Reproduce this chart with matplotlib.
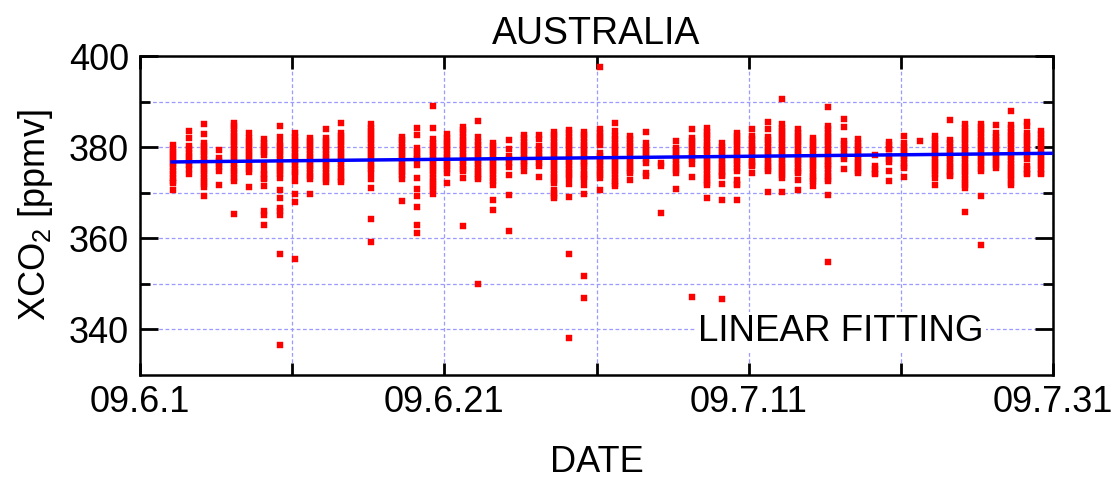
import matplotlib
matplotlib.use("Agg")
import matplotlib.pyplot as plt
from matplotlib.ticker import FixedLocator, NullFormatter

plt.rcParams['font.family'] = ['Liberation Sans', 'DejaVu Sans']
plt.rcParams['mathtext.fontset'] = 'custom'
plt.rcParams['mathtext.rm'] = 'Liberation Sans'
plt.rcParams['mathtext.it'] = 'Liberation Sans:italic'

# observation time (days since 2009-06-01 00:00)
obs_days = [2.15, 3.20, 4.18, 5.19, 6.18, 7.16, 8.17, 9.18, 10.16, 11.19, 12.20, 13.23,
            15.18, 17.19, 18.18, 19.23, 20.19, 21.20, 22.23, 23.21, 24.22, 25.23, 26.19,
            27.20, 28.21, 29.19, 30.23, 31.21, 32.22, 33.23, 34.21, 35.22, 36.25, 37.24,
            38.22, 39.21, 40.25, 41.24, 42.22, 43.25, 44.24, 45.22, 46.28, 47.20, 48.29,
            49.23, 50.21, 51.24, 52.23, 53.26, 54.20, 55.25, 56.24, 57.27, 58.29, 59.24]

# XCO2 soundings for each observation day [ppmv]
obs_xco2 = [
    [380.4, 379.7, 379.0, 378.3, 377.6, 376.9, 376.2, 375.6, 374.7, 374.0, 373.3, 372.6, 372.2, 370.5],
    [383.6, 381.9, 380.2, 379.5, 378.8, 378.1, 377.4, 376.7, 376.0, 375.1, 374.0],
    [385.0, 382.9, 381.0, 380.3, 379.6, 378.9, 378.2, 377.5, 376.8, 376.1, 375.4, 374.7, 374.0, 373.3, 372.6, 371.9, 371.2, 369.2],
    [379.3, 377.7, 377.0, 376.3, 375.6, 374.8, 371.6],
    [385.3, 384.6, 383.9, 383.2, 382.5, 381.8, 381.1, 380.4, 379.7, 379.0, 378.3, 377.6, 376.9, 376.2, 375.5, 374.8, 374.0, 373.3, 372.5, 365.3],
    [383.0, 382.1, 381.4, 380.7, 380.0, 379.4, 378.7, 378.0, 377.3, 376.6, 375.9, 375.2, 374.5, 371.2],
    [381.7, 381.0, 380.3, 379.6, 378.9, 378.2, 376.0, 374.7, 374.0, 373.3, 372.9, 371.4, 366.0, 365.2, 363.0],
    [384.6, 382.2, 381.0, 380.3, 379.6, 378.9, 378.2, 377.5, 376.8, 376.1, 375.4, 374.7, 374.0, 373.3, 370.7, 368.9, 366.7, 366.0, 365.2, 356.6, 336.6],
    [383.0, 382.3, 381.6, 380.9, 380.2, 379.5, 378.8, 378.1, 377.4, 376.7, 376.0, 375.3, 374.6, 373.8, 372.5, 369.7, 367.9, 355.5],
    [382.1, 381.4, 380.7, 380.0, 379.3, 378.6, 377.9, 377.2, 376.5, 375.8, 375.1, 374.4, 373.6, 372.9, 369.8],
    [384.0, 382.1, 381.4, 380.7, 380.0, 379.3, 378.6, 377.9, 377.2, 376.5, 375.8, 375.1, 374.4, 373.7, 373.0, 372.3],
    [385.3, 383.2, 382.5, 381.8, 381.1, 380.4, 379.7, 379.0, 378.3, 377.6, 376.9, 376.2, 375.5, 374.8, 374.1, 373.4, 372.7, 372.3],
    [385.0, 384.3, 383.6, 382.9, 382.2, 381.5, 380.8, 380.1, 379.4, 378.7, 378.0, 377.3, 376.6, 375.9, 375.2, 374.4, 372.9, 371.1, 364.3, 359.2],
    [382.2, 381.5, 380.8, 380.1, 379.4, 378.7, 378.0, 377.3, 376.6, 375.9, 375.2, 374.5, 373.8, 373.0, 368.2],
    [384.3, 382.6, 379.9, 379.2, 378.5, 377.8, 377.3, 376.0, 373.3, 370.9, 369.2, 366.8, 363.0, 361.1],
    [389.0, 384.2, 381.7, 381.0, 380.3, 379.6, 378.9, 378.2, 377.5, 376.8, 376.1, 375.4, 374.7, 374.0, 373.3, 372.6, 371.9, 371.2, 370.5, 369.8],
    [382.8, 382.1, 381.4, 380.7, 380.0, 379.3, 378.6, 377.9, 377.2, 376.5, 375.8, 375.1, 374.4, 372.2],
    [384.4, 383.7, 383.0, 382.3, 381.6, 380.9, 380.2, 379.5, 378.8, 378.1, 377.4, 376.7, 376.0, 375.3, 374.7, 373.3, 362.8],
    [385.7, 382.2, 381.1, 380.4, 379.7, 379.0, 378.3, 377.6, 376.9, 376.2, 375.5, 374.8, 374.1, 373.4, 372.9, 350.0],
    [381.0, 380.3, 379.6, 378.9, 378.2, 377.5, 376.8, 376.1, 375.4, 374.7, 374.0, 373.3, 372.6, 371.8, 368.5, 366.1],
    [381.5, 379.6, 378.0, 377.3, 376.6, 375.6, 373.8, 369.5, 361.7],
    [382.6, 381.9, 381.2, 380.5, 379.8, 379.1, 378.4, 377.7, 377.0, 376.3, 375.8, 374.7],
    [382.6, 381.7, 380.2, 379.5, 378.8, 378.1, 377.4, 376.6, 375.8, 373.5],
    [383.3, 382.6, 381.9, 381.2, 380.5, 379.8, 379.1, 378.4, 377.7, 377.0, 376.3, 375.6, 374.9, 374.2, 373.5, 372.8, 372.2, 370.7, 370.0, 369.3, 368.9],
    [383.7, 383.0, 382.3, 381.6, 380.9, 380.2, 379.5, 378.8, 378.1, 377.4, 376.7, 376.0, 375.3, 374.6, 373.9, 373.3, 372.0, 369.1, 356.6, 338.1],
    [383.3, 382.6, 381.9, 381.2, 380.5, 379.8, 379.1, 378.4, 377.7, 377.0, 376.3, 375.8, 374.7, 374.0, 373.4, 372.9, 371.8, 369.8, 351.8, 347.0],
    [397.6, 383.9, 383.2, 382.5, 381.8, 381.1, 380.4, 378.8, 378.1, 377.4, 376.7, 376.0, 375.3, 374.6, 373.9, 373.3, 370.7],
    [385.3, 383.5, 382.4, 381.7, 381.0, 380.3, 379.6, 378.9, 378.2, 377.5, 376.8, 376.1, 375.4, 374.7, 374.0, 373.3, 372.6, 371.9, 371.4],
    [382.4, 381.7, 381.0, 380.3, 379.6, 378.9, 378.2, 377.5, 376.8, 376.1, 375.4, 374.7, 374.4, 372.7],
    [383.3, 380.8, 380.1, 379.4, 378.7, 378.0, 377.3, 376.6, 374.4, 373.6],
    [376.6, 375.8, 365.6],
    [381.3, 379.9, 379.2, 378.5, 377.8, 377.1, 376.4, 375.7, 375.0, 374.4, 370.9],
    [383.9, 382.1, 381.4, 380.7, 380.0, 379.3, 378.6, 377.9, 377.3, 376.2, 373.4, 347.1],
    [384.2, 383.3, 382.6, 381.9, 381.2, 380.5, 379.8, 379.1, 378.4, 377.7, 377.0, 376.3, 375.6, 374.9, 374.2, 373.5, 372.8, 372.1, 371.8, 368.9],
    [380.8, 380.1, 379.4, 378.7, 378.0, 377.3, 376.6, 375.9, 375.2, 374.5, 373.8, 373.6, 371.9, 368.4, 346.7],
    [383.2, 382.5, 381.8, 381.1, 380.4, 379.7, 379.0, 378.3, 377.6, 376.9, 376.2, 375.5, 374.7, 372.7, 372.0, 371.8, 368.4],
    [384.0, 382.4, 381.7, 381.0, 380.3, 379.6, 378.9, 378.2, 377.5, 376.8, 376.1, 375.8, 374.4],
    [385.5, 383.9, 382.2, 381.5, 380.8, 380.1, 379.4, 378.7, 378.0, 377.3, 376.6, 375.9, 375.2, 374.7, 370.2],
    [390.5, 385.0, 384.3, 383.6, 382.9, 382.2, 381.5, 380.8, 380.1, 379.4, 378.7, 378.0, 377.3, 376.6, 375.9, 375.2, 374.5, 373.8, 373.3, 370.1],
    [383.9, 383.2, 382.5, 381.8, 381.1, 380.4, 379.7, 379.0, 378.3, 377.6, 376.9, 376.2, 375.5, 374.8, 374.4, 372.7, 370.7],
    [382.1, 381.4, 380.7, 380.0, 379.3, 378.6, 377.9, 377.2, 376.5, 375.8, 375.1, 374.4, 373.7, 373.0, 372.5, 371.4],
    [388.8, 384.6, 383.9, 383.2, 382.5, 381.8, 381.1, 380.4, 379.7, 379.0, 378.3, 377.6, 376.9, 376.2, 375.8, 375.1, 374.4, 373.7, 373.0, 372.5, 369.6, 354.8],
    [386.2, 384.5, 381.3, 380.6, 379.9, 378.8, 378.1, 377.3, 375.1],
    [381.7, 381.0, 380.3, 379.6, 378.9, 378.2, 377.5, 376.8, 376.1, 375.4, 374.7, 374.4],
    [378.2, 375.8, 375.1, 374.4, 374.2],
    [381.1, 380.4, 379.7, 379.5, 378.0, 377.3, 376.7, 374.7, 372.5],
    [382.4, 380.8, 380.1, 379.4, 378.7, 378.0, 377.3, 376.6, 375.9, 375.5, 373.5],
    [381.3],
    [382.4, 381.7, 381.0, 380.3, 379.6, 378.9, 378.2, 377.5, 376.8, 376.1, 375.4, 374.7, 374.0, 373.3, 371.6],
    [385.9, 381.5, 380.8, 380.1, 379.4, 378.7, 378.0, 377.3, 376.6, 375.9, 375.2, 374.5, 373.8, 373.6],
    [385.0, 384.3, 383.6, 382.9, 382.2, 381.5, 380.8, 380.1, 379.4, 378.7, 378.0, 377.3, 376.6, 375.9, 375.2, 374.5, 373.8, 373.1, 372.4, 371.7, 371.1, 365.7],
    [385.1, 384.4, 383.7, 383.0, 382.3, 381.6, 380.9, 380.2, 379.5, 378.8, 378.1, 377.4, 376.7, 376.0, 375.3, 374.7, 369.2, 358.5],
    [384.8, 383.0, 382.3, 381.6, 380.9, 380.2, 379.5, 378.8, 378.1, 377.4, 376.7, 376.0, 375.5],
    [387.9, 384.8, 384.1, 383.4, 382.7, 382.0, 381.3, 380.6, 379.9, 379.2, 378.5, 377.8, 377.1, 376.4, 375.7, 375.0, 374.3, 373.6, 372.9, 372.2, 371.8],
    [385.5, 384.6, 383.2, 382.5, 381.8, 381.1, 380.4, 379.7, 379.0, 378.3, 377.3, 375.8, 375.1, 374.4, 374.0],
    [383.5, 382.8, 382.1, 381.4, 380.7, 380.0, 379.3, 378.6, 377.9, 377.2, 376.5, 375.8, 375.1, 374.4, 374.0],
]

# linear fitting line (read endpoints)
fit_days = [2.0, 60.0]
fit_xco2 = [376.75, 378.65]

xtick_pos = [0, 20, 40, 60]
xtick_labels = ['09.6.1', '09.6.21', '09.7.11', '09.7.31']
xminor_pos = [10, 30, 50]
ytick_pos = [340, 360, 380, 400]
yminor_pos = [350, 370, 390]

fig = plt.figure(figsize=(11.16, 4.78), dpi=100)
ax = fig.add_axes([140 / 1116, 103 / 478, 913 / 1116, 319 / 478])

xs, ys = [], []
for d, vals in zip(obs_days, obs_xco2):
    xs.extend([d] * len(vals))
    ys.extend(vals)
ax.plot(xs, ys, linestyle='none', marker='s', markersize=3.7,
        markerfacecolor='#ff0000', markeredgecolor='#ff0000', markeredgewidth=0.3, zorder=3)
ax.plot(fit_days, fit_xco2, color='#0000ff', linewidth=2.5, zorder=4, solid_capstyle='butt')

ax.set_xlim(0, 60)
ax.set_ylim(330, 400)
ax.set_xticks(xtick_pos)
ax.set_xticklabels(xtick_labels)
ax.xaxis.set_minor_locator(FixedLocator(xminor_pos))
ax.set_yticks(ytick_pos)
ax.yaxis.set_minor_locator(FixedLocator(yminor_pos))
ax.xaxis.set_minor_formatter(NullFormatter())
ax.yaxis.set_minor_formatter(NullFormatter())

ax.set_axisbelow(True)
ax.grid(which='both', color='#9a9aff', linestyle=(0, (3, 2)), linewidth=0.9)

ax.tick_params(which='both', direction='in', top=True, right=True, width=2.0,
               labelsize=26, color='black')
ax.tick_params(axis='y', which='major', length=13, pad=8)
ax.tick_params(axis='y', which='minor', length=7)
ax.tick_params(axis='x', which='both', length=9, pad=7)
for s in ax.spines.values():
    s.set_linewidth(1.8)

ax.set_title('AUSTRALIA', fontsize=27, pad=9)
ax.set_xlabel('DATE', fontsize=26, labelpad=18)
ax.set_ylabel(r'XCO$_2$ [ppmv]', fontsize=26, labelpad=10)

ax.text(0.768, 0.135, 'LINEAR FITTING', transform=ax.transAxes, ha='center', va='center',
        fontsize=26.5, zorder=5, bbox=dict(facecolor='white', edgecolor='none', pad=1.5))

fig.savefig('out.png', dpi=100)
